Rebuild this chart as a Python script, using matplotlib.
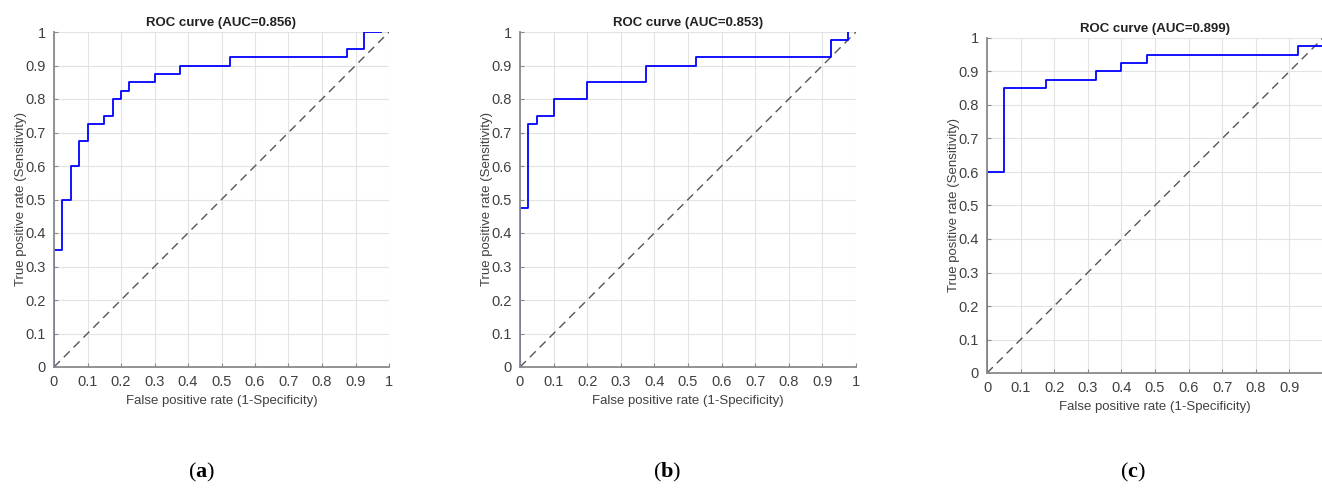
import numpy as np
import matplotlib
matplotlib.use("Agg")
import matplotlib.pyplot as plt

plt.rcParams['font.family'] = ['Liberation Sans', 'DejaVu Sans']
plt.rcParams['mathtext.fontset'] = 'custom'
plt.rcParams['mathtext.rm'] = 'Liberation Serif'
plt.rcParams['mathtext.bf'] = 'Liberation Serif:bold'

# ROC step curves (FPR, TPR)
fpr_a = [0, 0, 0.025, 0.025, 0.05, 0.05, 0.075, 0.075, 0.1, 0.1, 0.15, 0.15, 0.175, 0.175,
         0.2, 0.2, 0.225, 0.225, 0.3, 0.3, 0.375, 0.375, 0.525, 0.525, 0.875, 0.875,
         0.925, 0.925, 0.975]
tpr_a = [0, 0.35, 0.35, 0.5, 0.5, 0.6, 0.6, 0.675, 0.675, 0.725, 0.725, 0.75, 0.75, 0.8,
         0.8, 0.825, 0.825, 0.85, 0.85, 0.875, 0.875, 0.9, 0.9, 0.925, 0.925, 0.95,
         0.95, 1.0, 1.0]

fpr_b = [0, 0, 0.025, 0.025, 0.05, 0.05, 0.1, 0.1, 0.2, 0.2, 0.375, 0.375, 0.525, 0.525,
         0.925, 0.925, 0.975, 0.975]
tpr_b = [0, 0.475, 0.475, 0.725, 0.725, 0.75, 0.75, 0.8, 0.8, 0.85, 0.85, 0.9, 0.9, 0.925,
         0.925, 0.975, 0.975, 1.0]

fpr_c = [0, 0, 0.05, 0.05, 0.175, 0.175, 0.325, 0.325, 0.4, 0.4, 0.475, 0.475,
         0.925, 0.925, 1.0]
tpr_c = [0, 0.6, 0.6, 0.85, 0.85, 0.875, 0.875, 0.9, 0.9, 0.925, 0.925, 0.95,
         0.95, 0.975, 0.975]

auc_vals = ['0.856', '0.853', '0.899']
captions = ['a', 'b', 'c']
ticks = np.round(np.arange(0, 1.01, 0.1), 1)
tick_labels = ['0', '0.1', '0.2', '0.3', '0.4', '0.5', '0.6', '0.7', '0.8', '0.9', '1']

W, H = 1322, 488
fig = plt.figure(figsize=(W / 100, H / 100), dpi=100)

# axes boxes in pixels: left, top, right, bottom
boxes = [(54, 32, 389, 367), (520, 32, 856, 367), (987, 38, 1323, 373)]
curves = [(fpr_a, tpr_a), (fpr_b, tpr_b), (fpr_c, tpr_c)]
cap_x = [202, 667, 1133]

txt = '#404040'
for i, ((l, t, r, b), (fx, ty)) in enumerate(zip(boxes, curves)):
    ax = fig.add_axes([l / W, (H - b) / H, (r - l) / W, (b - t) / H])
    ax.plot([0, 1], [0, 1], '--', color='#555555', lw=1.0, dashes=(6, 4))
    ax.plot(fx, ty, color='#0000ff', lw=1.3)
    ax.set_xlim(0, 1)
    ax.set_ylim(0, 1)
    if i == 2:
        ax.set_xticks(ticks[:-1])
        ax.set_xticklabels(tick_labels[:-1])
    else:
        ax.set_xticks(ticks)
        ax.set_xticklabels(tick_labels)
    ax.set_yticks(ticks)
    ax.set_yticklabels(tick_labels)
    ax.grid(True, color='#e3e3e3', lw=0.8)
    ax.set_axisbelow(True)
    for s in ['top', 'right']:
        ax.spines[s].set_visible(False)
    for s in ['left', 'bottom']:
        ax.spines[s].set_color('#8a8a8a')
        ax.spines[s].set_linewidth(1.3)
    ax.tick_params(direction='in', length=3, width=0.8, color='#8a8a8a',
                   labelsize=10.5, labelcolor=txt, pad=6)
    ax.set_title('ROC curve (AUC=%s)' % auc_vals[i], fontsize=9.5,
                 fontweight='bold', color='#222222', pad=4)
    ax.set_xlabel('False positive rate (1-Specificity)', fontsize=9.5, color=txt, labelpad=4)
    ax.set_ylabel('True positive rate (Sensitivity)', fontsize=9.5, color=txt, labelpad=-1)
    fig.text(cap_x[i] / W, (H - 472) / H, r'$\mathrm{(}\mathbf{%s}\mathrm{)}$' % captions[i],
             ha='center', va='center', fontsize=16, color='black')

fig.savefig('out.png', dpi=100)
